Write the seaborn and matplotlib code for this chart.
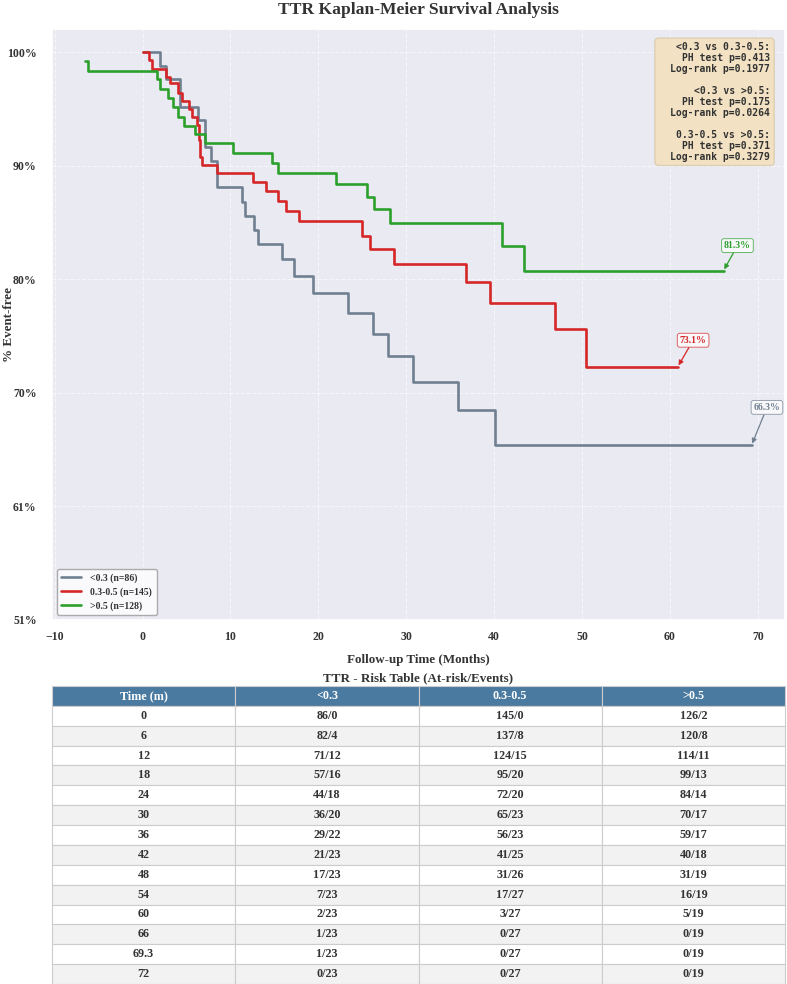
import numpy as np
import pandas as pd
import matplotlib
matplotlib.use("Agg")
import matplotlib.pyplot as plt
import seaborn as sns

# ---------------- data ----------------
group_labels = ["<0.3 (n=86)", "0.3-0.5 (n=145)", ">0.5 (n=128)"]
group_colors = ["#708090", "#d62728", "#2ca02c"]

t_low = [0, 1.93, 2.69, 4.28, 6.36, 7.13, 7.77, 8.45, 11.3, 11.67, 12.69, 13.18,
         15.91, 17.27, 19.40, 23.34, 26.18, 27.95, 30.80, 35.84, 40.08, 69.3]
s_low = [100, 98.81, 97.64, 95.26, 94.11, 91.80, 90.58, 88.27, 87.04, 85.80, 84.59,
         83.35, 82.08, 80.63, 79.11, 77.38, 75.56, 73.68, 71.41, 69.0, 65.97, 65.97]

t_mid = [0, 0.68, 1.07, 2.66, 3.15, 4.02, 4.48, 5.23, 5.61, 6.18, 6.44, 6.56, 6.75,
         8.45, 12.61, 14.06, 15.45, 16.3, 17.84, 24.93, 25.88, 28.6, 36.78, 39.51,
         46.98, 50.5, 60.9]
s_mid = [100, 99.31, 98.53, 97.86, 97.29, 96.48, 95.78, 95.06, 94.35, 93.68, 92.38,
         90.94, 90.22, 89.50, 88.77, 87.97, 87.10, 86.23, 85.37, 84.10, 82.92, 81.62,
         80.11, 78.29, 75.99, 72.75, 72.75]

t_high = [-6.51, -6.25, 1.70, 2.01, 2.89, 3.45, 3.98, 4.74, 5.99, 7.13, 10.34, 14.7,
          15.39, 22.01, 25.5, 26.36, 28.15, 40.95, 43.38, 66.1]
s_high = [99.22, 98.38, 97.63, 96.80, 95.99, 95.21, 94.40, 93.62, 92.87, 92.09, 91.28,
          90.41, 89.55, 88.55, 87.47, 86.38, 85.22, 83.2, 81.07, 81.07]

end_labels = ["66.3%", "73.1%", "81.3%"]

stats_blocks = ["<0.3 vs 0.3-0.5:\nPH test p=0.413\nLog-rank p=0.1977",
                "<0.3 vs >0.5:\nPH test p=0.175\nLog-rank p=0.0264",
                "0.3-0.5 vs >0.5:\nPH test p=0.371\nLog-rank p=0.3279"]

table_cols = ["Time (m)", "<0.3", "0.3-0.5", ">0.5"]
table_time = ["0", "6", "12", "18", "24", "30", "36", "42", "48", "54", "60", "66", "69.3", "72"]
table_low = ["86/0", "82/4", "71/12", "57/16", "44/18", "36/20", "29/22", "21/23",
             "17/23", "7/23", "2/23", "1/23", "1/23", "0/23"]
table_mid = ["145/0", "137/8", "124/15", "95/20", "72/20", "65/23", "56/23", "41/25",
             "31/26", "17/27", "3/27", "0/27", "0/27", "0/27"]
table_high = ["126/2", "120/8", "114/11", "99/13", "84/14", "70/17", "59/17", "40/18",
              "31/19", "16/19", "5/19", "0/19", "0/19", "0/19"]

y_bottom, y_top = 50.8, 102.0

# ---------------- style ----------------
sns.set_theme(style="darkgrid")
plt.rcParams["font.family"] = ["Liberation Serif", "DejaVu Serif"]
plt.rcParams["font.weight"] = "bold"
txt_color = "#333333"

fig = plt.figure(figsize=(7.87, 9.84), dpi=100)
ax = fig.add_axes([52 / 787, 1 - 620 / 984, 733 / 787, 591 / 984])

times = [t_low, t_mid, t_high]
survs = [s_low, s_mid, s_high]
for t, s, lab, col in zip(times, survs, group_labels, group_colors):
    df = pd.DataFrame({"t": t, "s": s})
    sns.lineplot(data=df, x="t", y="s", ax=ax, drawstyle="steps-post", color=col,
                 linewidth=1.9, label=lab, sort=False, estimator=None)

ax.set_ylim(y_bottom, y_top)
yt = np.linspace(y_bottom, 100, 6)
ax.set_yticks(yt)
ax.set_yticklabels([f"{v:.0f}%" for v in yt])
ax.set_xticks([-10, 0, 10, 20, 30, 40, 50, 60, 70])
ax.tick_params(axis="both", labelsize=8.5, colors=txt_color)
ax.tick_params(axis="x", pad=2)
ax.tick_params(axis="y", pad=5)
for lab in ax.get_xticklabels() + ax.get_yticklabels():
    lab.set_fontweight("bold")
ax.grid(True, color="white", linestyle="--", linewidth=0.8, alpha=0.6)

ax.set_xlabel("Follow-up Time (Months)", fontsize=9.4, fontweight="bold",
              color=txt_color, labelpad=8)
ax.set_ylabel("% Event-free", fontsize=9.4, fontweight="bold", color=txt_color)
ax.yaxis.set_label_coords(-0.051, 0.5)
ax.set_title("TTR Kaplan-Meier Survival Analysis", fontsize=12.6, fontweight="bold",
             color=txt_color, pad=11)

# end annotations
offsets = [(11, 27), (11, 19), (10, 18)]
for t, s, lab, col, off in zip(times, survs, end_labels, group_colors, offsets):
    ax.annotate(lab, xy=(t[-1], s[-1]), xytext=off, textcoords="offset points",
                ha="center", va="center", fontsize=7, fontweight="bold", color=col,
                bbox=dict(boxstyle="round,pad=0.25", facecolor="white",
                          edgecolor=col, alpha=0.7, linewidth=0.7),
                arrowprops=dict(arrowstyle="-|>", color=col, lw=0.9,
                                mutation_scale=7, shrinkA=0, shrinkB=1))

# blank separator lines are padded so the box is as wide as in the reference
stats_text = ("\n" + " " * 19 + "\n").join(stats_blocks)
ax.text(0.98, 0.978, stats_text, transform=ax.transAxes, ha="right", va="top",
        multialignment="right", family="DejaVu Sans Mono", fontweight="bold",
        fontsize=7, color=txt_color, linespacing=1.12,
        bbox=dict(boxstyle="round,pad=0.4", facecolor="wheat", alpha=0.75,
                  edgecolor="#d8c8a8"))

leg = ax.legend(loc="lower left", fontsize=7, frameon=True, framealpha=0.8,
                facecolor="white", edgecolor="#999999", handlelength=2.0,
                borderpad=0.45, labelspacing=0.45, handletextpad=1.0)
for t in leg.get_texts():
    t.set_fontweight("bold")
    t.set_color(txt_color)

# ---------------- risk table ----------------
axt = fig.add_axes([52 / 787, 0.0, 733 / 787, 1 - 686 / 984])
axt.axis("off")
fig.text((52 + 785) / 2 / 787, 1 - 678 / 984, "TTR - Risk Table (At-risk/Events)",
         ha="center", va="center", fontsize=9.4, fontweight="bold", color=txt_color)

cell_text = [list(r) for r in zip(table_time, table_low, table_mid, table_high)]
tab = axt.table(cellText=cell_text, colLabels=table_cols, loc="center",
                cellLoc="center", bbox=[0, 0, 1, 1])
tab.auto_set_font_size(False)
tab.set_fontsize(8.7)
header_color = "#4a7aa0"
for (r, c), cell in tab.get_celld().items():
    cell.set_edgecolor("#cccccc")
    cell.set_linewidth(0.8)
    if r == 0:
        cell.set_facecolor(header_color)
        cell.get_text().set_color("white")
        cell.get_text().set_fontweight("bold")
    else:
        cell.set_facecolor("white" if r % 2 == 1 else "#f2f2f2")
        cell.get_text().set_color(txt_color)
        cell.get_text().set_fontweight("bold")

fig.savefig("out.png", dpi=100)
